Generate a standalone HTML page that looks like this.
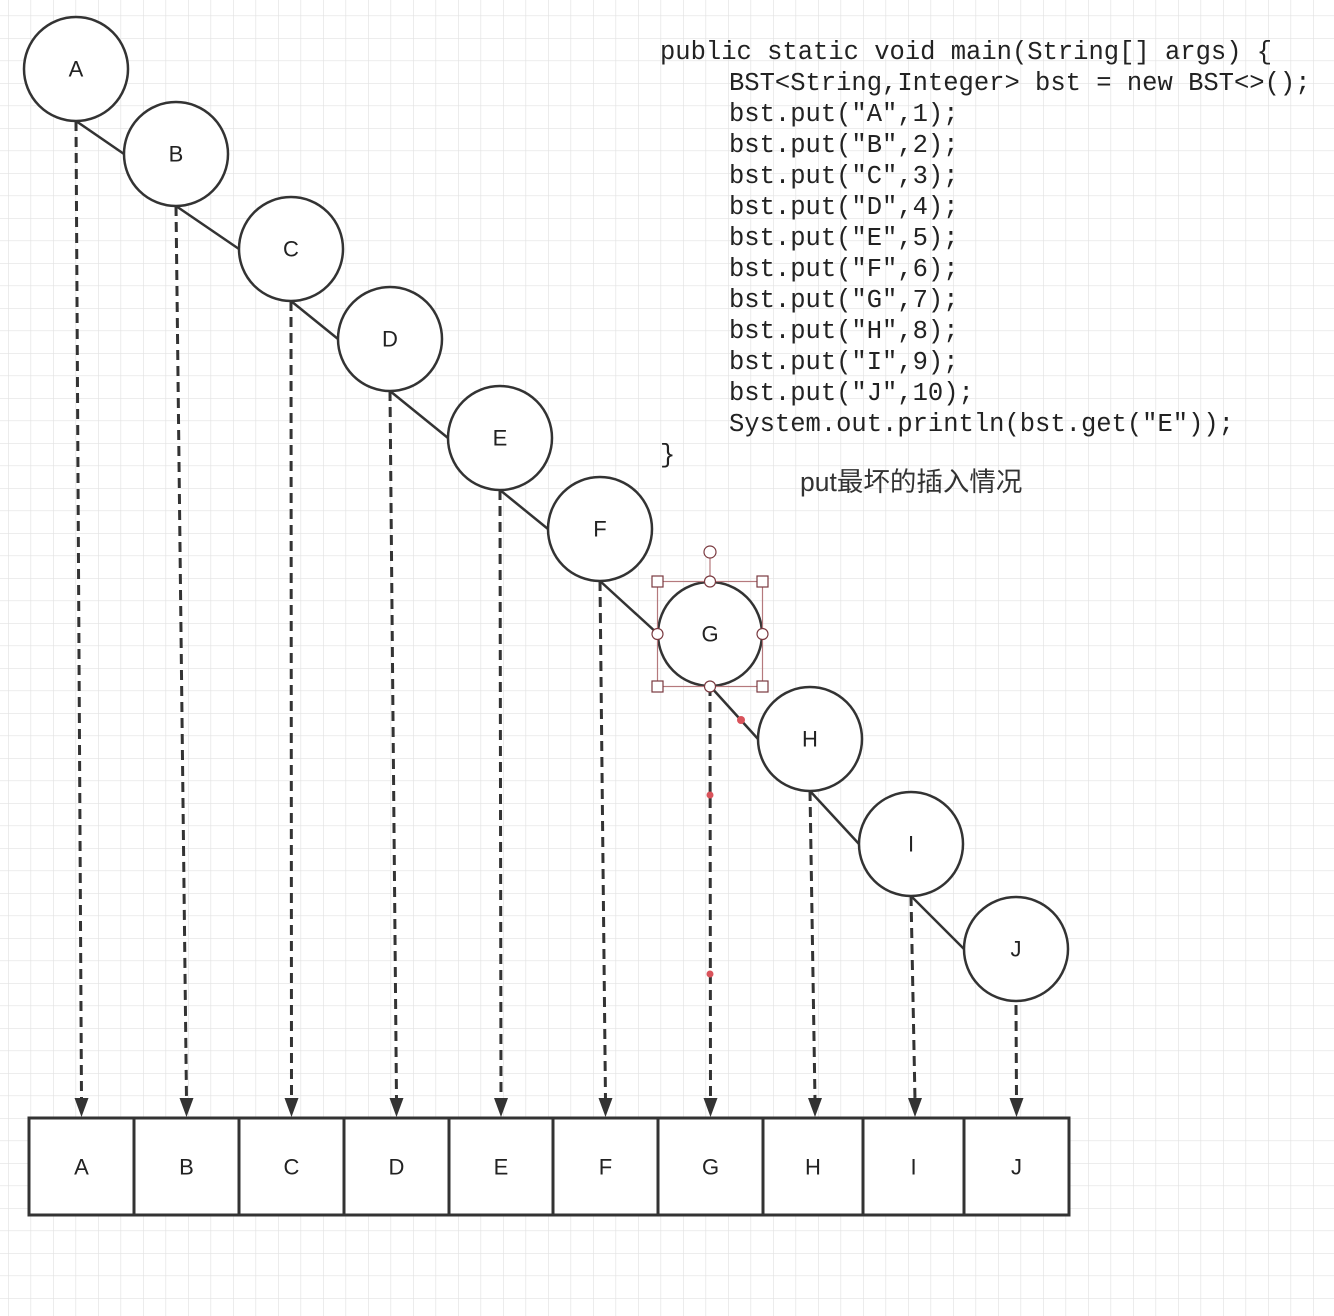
<!DOCTYPE html>
<html><head><meta charset="utf-8"><style>
html,body{margin:0;padding:0;background:#fff;}
svg{display:block;}
.c{font-family:"Liberation Sans",sans-serif;font-size:22px;fill:#222;text-anchor:middle;dominant-baseline:central;}
.code{font-family:"Liberation Mono","DejaVu Sans Mono",monospace;font-size:25.5px;fill:#222;}
</style></head><body>
<svg width="1334" height="1316" xmlns="http://www.w3.org/2000/svg">
<defs>
<pattern id="g" x="8" y="15.5" width="22.5" height="22.5" patternUnits="userSpaceOnUse">
<path d="M0 0H22.5M0 0V22.5" stroke="#e2e2e2" stroke-width="1.3" fill="none"/>
</pattern>
</defs>
<rect width="1334" height="1316" fill="#fff"/>
<rect width="1334" height="1316" fill="url(#g)"/>
<g stroke="#333" stroke-width="2.5" fill="none">
<line x1="76" y1="121" x2="124" y2="154"/>
<line x1="176" y1="206" x2="239" y2="249"/>
<line x1="291" y1="301" x2="338" y2="339"/>
<line x1="390" y1="391" x2="448" y2="438"/>
<line x1="500" y1="490" x2="548" y2="529"/>
<line x1="600" y1="581" x2="658" y2="634"/>
<line x1="710" y1="686" x2="758" y2="739"/>
<line x1="810" y1="791" x2="859" y2="844"/>
<line x1="911" y1="896" x2="964" y2="949"/>
</g>
<g stroke="#333" stroke-width="3" stroke-dasharray="10,6" fill="none">
<line x1="76" y1="121" x2="81.5" y2="1100"/>
<line x1="176" y1="206" x2="186.5" y2="1100"/>
<line x1="291" y1="301" x2="291.5" y2="1100"/>
<line x1="390" y1="391" x2="396.5" y2="1100"/>
<line x1="500" y1="490" x2="501" y2="1100"/>
<line x1="600" y1="581" x2="605.5" y2="1100"/>
<line x1="710" y1="686" x2="710.5" y2="1100"/>
<line x1="810" y1="791" x2="815" y2="1100"/>
<line x1="911" y1="896" x2="915" y2="1100"/>
<line x1="1016" y1="1005" x2="1016.5" y2="1100"/>
</g>
<g fill="#333">
<polygon points="74.5,1098 88.5,1098 81.5,1117"/>
<polygon points="179.5,1098 193.5,1098 186.5,1117"/>
<polygon points="284.5,1098 298.5,1098 291.5,1117"/>
<polygon points="389.5,1098 403.5,1098 396.5,1117"/>
<polygon points="494,1098 508,1098 501,1117"/>
<polygon points="598.5,1098 612.5,1098 605.5,1117"/>
<polygon points="703.5,1098 717.5,1098 710.5,1117"/>
<polygon points="808,1098 822,1098 815,1117"/>
<polygon points="908,1098 922,1098 915,1117"/>
<polygon points="1009.5,1098 1023.5,1098 1016.5,1117"/>
</g>
<g stroke="#333" stroke-width="2.5" fill="#fff">
<circle cx="76" cy="69" r="52"/>
<circle cx="176" cy="154" r="52"/>
<circle cx="291" cy="249" r="52"/>
<circle cx="390" cy="339" r="52"/>
<circle cx="500" cy="438" r="52"/>
<circle cx="600" cy="529" r="52"/>
<circle cx="710" cy="634" r="52"/>
<circle cx="810" cy="739" r="52"/>
<circle cx="911" cy="844" r="52"/>
<circle cx="1016" cy="949" r="52"/>
</g>
<g class="c">
<text x="76" y="69">A</text><text x="176" y="154">B</text><text x="291" y="249">C</text>
<text x="390" y="339">D</text><text x="500" y="438">E</text><text x="600" y="529">F</text>
<text x="710" y="634">G</text><text x="810" y="739">H</text><text x="911" y="844">I</text>
<text x="1016" y="949">J</text>
</g>
<g stroke="#333" stroke-width="3" fill="#fff">
<rect x="29" y="1118" width="1040" height="97"/>
<line x1="134" y1="1118" x2="134" y2="1215"/><line x1="239" y1="1118" x2="239" y2="1215"/>
<line x1="344" y1="1118" x2="344" y2="1215"/><line x1="449" y1="1118" x2="449" y2="1215"/>
<line x1="553" y1="1118" x2="553" y2="1215"/><line x1="658" y1="1118" x2="658" y2="1215"/>
<line x1="763" y1="1118" x2="763" y2="1215"/><line x1="863" y1="1118" x2="863" y2="1215"/>
<line x1="964" y1="1118" x2="964" y2="1215"/>
</g>
<g class="c">
<text x="81.5" y="1167">A</text><text x="186.5" y="1167">B</text><text x="291.5" y="1167">C</text>
<text x="396.5" y="1167">D</text><text x="501" y="1167">E</text><text x="605.5" y="1167">F</text>
<text x="710.5" y="1167">G</text><text x="813" y="1167">H</text><text x="913.5" y="1167">I</text>
<text x="1016.5" y="1167">J</text>
</g>
<g stroke="#b5797d" stroke-width="1.2" fill="none">
<rect x="657.5" y="581.5" width="105" height="105"/>
<line x1="710" y1="558" x2="710" y2="581"/>
</g>
<g stroke="#7a3a40" stroke-width="1.2" fill="#fff">
<circle cx="710" cy="552" r="6"/>
<rect x="652" y="576" width="11" height="11"/><rect x="757" y="576" width="11" height="11"/>
<rect x="652" y="681" width="11" height="11"/><rect x="757" y="681" width="11" height="11"/>
<circle cx="710" cy="581.5" r="5.5"/><circle cx="710" cy="686.5" r="5.5"/>
<circle cx="657.5" cy="634" r="5.5"/><circle cx="762.5" cy="634" r="5.5"/>
</g>
<g fill="#d9535b">
<circle cx="741" cy="720" r="4"/><circle cx="710" cy="795" r="3.5"/><circle cx="710" cy="974" r="3.5"/>
</g>
<g class="code">
<text x="660" y="59">public static void main(String[] args) {</text>
<text x="729" y="90">BST&lt;String,Integer&gt; bst = new BST&lt;&gt;();</text>
<text x="729" y="121">bst.put("A",1);</text>
<text x="729" y="152">bst.put("B",2);</text>
<text x="729" y="183">bst.put("C",3);</text>
<text x="729" y="214">bst.put("D",4);</text>
<text x="729" y="245">bst.put("E",5);</text>
<text x="729" y="276">bst.put("F",6);</text>
<text x="729" y="307">bst.put("G",7);</text>
<text x="729" y="338">bst.put("H",8);</text>
<text x="729" y="369">bst.put("I",9);</text>
<text x="729" y="400">bst.put("J",10);</text>
<text x="729" y="431">System.out.println(bst.get("E"));</text>
<text x="660" y="462">}</text>
</g>
<text x="800" y="491" font-family="'Liberation Sans','Noto Sans CJK SC',sans-serif" font-size="26.5" fill="#333">put最坏的插入情况</text>
</svg>
</body></html>
